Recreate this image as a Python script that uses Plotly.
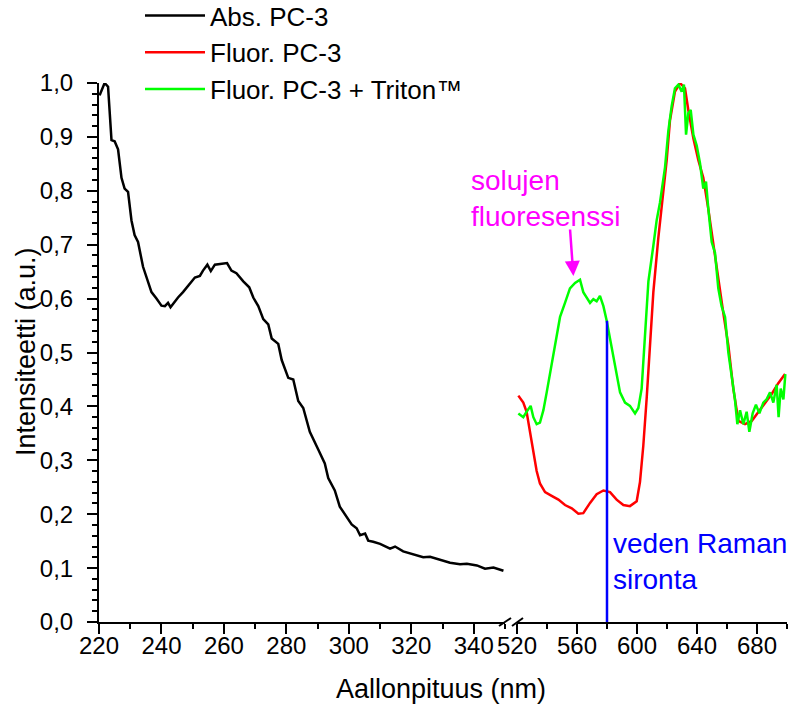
import plotly.graph_objects as go

# ---------------- data ----------------
abs_wl = [220.2, 221.8, 222.9, 224.0, 225.0, 226.1, 227.2, 228.2, 229.3, 230.4, 231.4, 232.5,
          234.1, 235.2, 236.8, 238.4, 240.0, 241.1, 242.1, 242.9, 244.3, 245.3, 246.9, 249.1,
          250.7, 252.3, 253.3, 254.7, 255.8, 257.1, 258.7, 261.0, 262.4, 264.0, 266.2, 268.1,
          269.4, 271.0, 272.6, 274.2, 275.3, 277.4, 278.5, 280.6, 282.2, 283.8, 285.4, 287.5,
          290.2, 292.3, 293.4, 295.5, 297.1, 299.3, 300.9, 302.5, 303.6, 305.2, 306.2, 307.8,
          310.0, 313.2, 314.8, 317.4, 320.6, 323.8, 326.0, 329.2, 332.4, 335.6, 337.8, 341.0,
          343.6, 346.3, 349.5]
abs_val = [0.977, 1.000, 0.993, 0.894, 0.892, 0.877, 0.824, 0.804, 0.798, 0.745, 0.718, 0.705,
           0.659, 0.639, 0.612, 0.600, 0.587, 0.586, 0.592, 0.584, 0.595, 0.602, 0.612, 0.627,
           0.639, 0.642, 0.652, 0.663, 0.651, 0.663, 0.664, 0.666, 0.652, 0.647, 0.632, 0.621,
           0.602, 0.586, 0.562, 0.552, 0.526, 0.516, 0.486, 0.453, 0.450, 0.410, 0.397, 0.353,
           0.320, 0.294, 0.267, 0.244, 0.214, 0.194, 0.181, 0.174, 0.161, 0.164, 0.151, 0.149,
           0.145, 0.136, 0.140, 0.131, 0.126, 0.120, 0.121, 0.116, 0.110, 0.107, 0.108, 0.105,
           0.099, 0.101, 0.095]

fl_wl = [520.9, 524.2, 526.4, 528.7, 530.9, 533.1, 535.3, 538.7, 543.1, 547.6, 552.0, 556.5,
         560.9, 564.2, 568.7, 573.1, 577.6, 582.0, 586.4, 590.9, 595.3, 599.8, 602.0, 604.2,
         606.4, 608.7, 610.9, 614.2, 617.6, 619.8, 622.0, 625.3, 628.7, 632.0, 634.2, 637.6,
         640.9, 644.2, 647.6, 650.9, 654.2, 657.6, 660.9, 664.2, 667.6, 672.0, 676.5, 680.9,
         685.3, 689.8, 694.2, 698.7]
fl_val = [0.420, 0.407, 0.390, 0.353, 0.320, 0.280, 0.257, 0.241, 0.234, 0.227, 0.217, 0.211,
          0.201, 0.202, 0.221, 0.237, 0.244, 0.241, 0.227, 0.217, 0.215, 0.224, 0.260, 0.327,
          0.413, 0.513, 0.612, 0.712, 0.804, 0.857, 0.931, 0.984, 1.000, 0.990, 0.950, 0.897,
          0.857, 0.824, 0.765, 0.698, 0.632, 0.572, 0.513, 0.433, 0.373, 0.367, 0.373, 0.390,
          0.407, 0.423, 0.443, 0.460]

flt_wl = [520.9, 524.2, 526.4, 529.1, 530.9, 533.1, 535.3, 537.6, 539.8, 542.0, 544.2, 546.4,
          548.7, 552.0, 555.3, 558.7, 562.0, 564.2, 566.4, 568.7, 570.9, 573.1, 575.3, 577.6,
          579.8, 582.0, 584.2, 586.4, 588.7, 592.0, 595.3, 598.7, 600.9, 603.1, 605.3, 607.6,
          610.9, 613.1, 615.3, 618.7, 620.9, 623.1, 625.3, 627.6, 629.8, 631.3, 632.7, 634.2,
          635.8, 637.6, 639.8, 642.0, 644.2, 646.0, 647.6, 649.8, 652.0, 654.2, 656.4, 658.7,
          660.9, 663.1, 665.3, 666.9, 668.7, 670.9, 673.1, 674.9, 677.1, 679.3, 681.6, 684.2,
          686.4, 688.7, 690.9, 693.1, 694.4, 695.8, 697.6, 698.9]
flt_val = [0.387, 0.380, 0.390, 0.401, 0.380, 0.367, 0.370, 0.393, 0.426, 0.460, 0.493, 0.533,
           0.566, 0.592, 0.619, 0.629, 0.635, 0.612, 0.602, 0.592, 0.599, 0.595, 0.605, 0.586,
           0.559, 0.526, 0.493, 0.460, 0.426, 0.407, 0.401, 0.387, 0.397, 0.433, 0.526, 0.632,
           0.698, 0.745, 0.778, 0.844, 0.911, 0.957, 0.990, 0.997, 0.984, 0.997, 0.904, 0.944,
           0.950, 0.904, 0.884, 0.851, 0.804, 0.817, 0.765, 0.705, 0.685, 0.619, 0.586, 0.566,
           0.500, 0.460, 0.413, 0.367, 0.393, 0.367, 0.390, 0.353, 0.387, 0.403, 0.387, 0.407,
           0.413, 0.426, 0.407, 0.440, 0.380, 0.433, 0.413, 0.460]

raman_wl = [580, 580]
raman_val = [0.0, 0.559]

series_names = ["Abs. PC-3", "Fluor. PC-3", "Fluor. PC-3 + Triton™"]
x_left_ticks = [220, 240, 260, 280, 300, 320, 340]
x_right_ticks = [520, 560, 600, 640, 680]

# ---------------- figure ----------------
FONT = "Liberation Sans, Arial, sans-serif"
W, H = 793, 707
ML, MR, MT, MB = 99, 6, 83, 85
PW, PH = W - ML - MR, H - MT - MB


def px_x(p):
    return (p - ML) / PW


def px_y(p):
    return (H - MB - p) / PH


fig = go.Figure()
fig.add_trace(go.Scatter(x=abs_wl, y=abs_val, mode="lines", name=series_names[0],
                         line=dict(color="#000000", width=2.5), xaxis="x", yaxis="y",
                         cliponaxis=False))
fig.add_trace(go.Scatter(x=fl_wl, y=fl_val, mode="lines", name=series_names[1],
                         line=dict(color="#FF0000", width=2.5), xaxis="x2", yaxis="y",
                         cliponaxis=False))
fig.add_trace(go.Scatter(x=flt_wl, y=flt_val, mode="lines", name=series_names[2],
                         line=dict(color="#00FF00", width=2.5), xaxis="x2", yaxis="y",
                         cliponaxis=False))
fig.add_trace(go.Scatter(x=raman_wl, y=raman_val, mode="lines", showlegend=False,
                         line=dict(color="#0000FF", width=2.5), xaxis="x2", yaxis="y",
                         cliponaxis=False))

axis_common = dict(showline=True, linecolor="black", linewidth=2, showgrid=False,
                   zeroline=False, ticks="outside", ticklen=10, tickwidth=2,
                   tickcolor="black", tickfont=dict(family=FONT, size=24, color="black"))

fig.update_layout(
    width=W, height=H,
    margin=dict(l=ML, r=MR, t=MT, b=MB, autoexpand=False),
    paper_bgcolor="white", plot_bgcolor="white",
    separators=", ",
    font=dict(family=FONT, color="black"),
    xaxis=dict(domain=[0, px_x(505)], range=[220, 350], tickvals=x_left_ticks,
               ticklabelstandoff=-9,
               minor=dict(dtick=10, tick0=220, ticks="outside", ticklen=5, tickwidth=2,
                          tickcolor="black"),
               **axis_common),
    xaxis2=dict(domain=[px_x(517), 1], range=[520, 700], tickvals=x_right_ticks,
                anchor="y", ticklabelstandoff=-9,
                minor=dict(dtick=20, tick0=520, ticks="outside", ticklen=5, tickwidth=2,
                           tickcolor="black"),
                **axis_common),
    yaxis=dict(domain=[0, 1], range=[0, 1], dtick=0.1, tick0=0, tickformat=".1f",
               ticklabelstandoff=9,
               minor=dict(dtick=0.02, ticks="outside", ticklen=5, tickwidth=2,
                          tickcolor="black"),
               **axis_common),
    showlegend=True,
    legend=dict(x=px_x(140), y=px_y(-8), xanchor="left", yanchor="top",
                bgcolor="rgba(0,0,0,0)", borderwidth=0, itemwidth=60,
                font=dict(family=FONT, size=26, color="black"),
                tracegroupgap=0),
)

# axis titles
fig.add_annotation(text="Aallonpituus (nm)", xref="paper", yref="paper",
                   x=px_x(441), y=px_y(689), xanchor="center", yanchor="middle",
                   showarrow=False, font=dict(family=FONT, size=27, color="black"))
fig.add_annotation(text="Intensiteetti (a.u.)", xref="paper", yref="paper",
                   x=px_x(26), y=px_y(352), xanchor="center", yanchor="middle",
                   textangle=-90, showarrow=False,
                   font=dict(family=FONT, size=27, color="black"))

# text annotations
fig.add_annotation(text="solujen<br>fluoresenssi", xref="paper", yref="paper",
                   x=px_x(469), y=px_y(198), xanchor="left", yanchor="middle",
                   align="left", showarrow=False,
                   font=dict(family=FONT, size=28, color="#FF00FF"))
fig.add_annotation(text="", xref="x2", yref="y", x=557.6, y=0.642,
                   axref="x2", ayref="y", ax=555.3, ay=0.731,
                   showarrow=True, arrowhead=2, arrowsize=1.2, arrowwidth=2.5,
                   arrowcolor="#FF00FF")
fig.add_annotation(text="veden Raman<br>sironta", xref="x2", yref="y",
                   x=raman_wl[0], y=0.112, xanchor="left", yanchor="middle",
                   xshift=4, align="left", showarrow=False,
                   font=dict(family=FONT, size=28, color="#0000FF"))

# axis break marks
for (a, b, c, d) in [(499, 626, 511, 618), (512, 626, 523, 618)]:
    fig.add_shape(type="line", xref="paper", yref="paper",
                  x0=px_x(a), y0=px_y(b), x1=px_x(c), y1=px_y(d),
                  line=dict(color="black", width=2))

fig.write_html("out.html", config={"displayModeBar": False},
               post_script="document.body.style.margin='0px';")
